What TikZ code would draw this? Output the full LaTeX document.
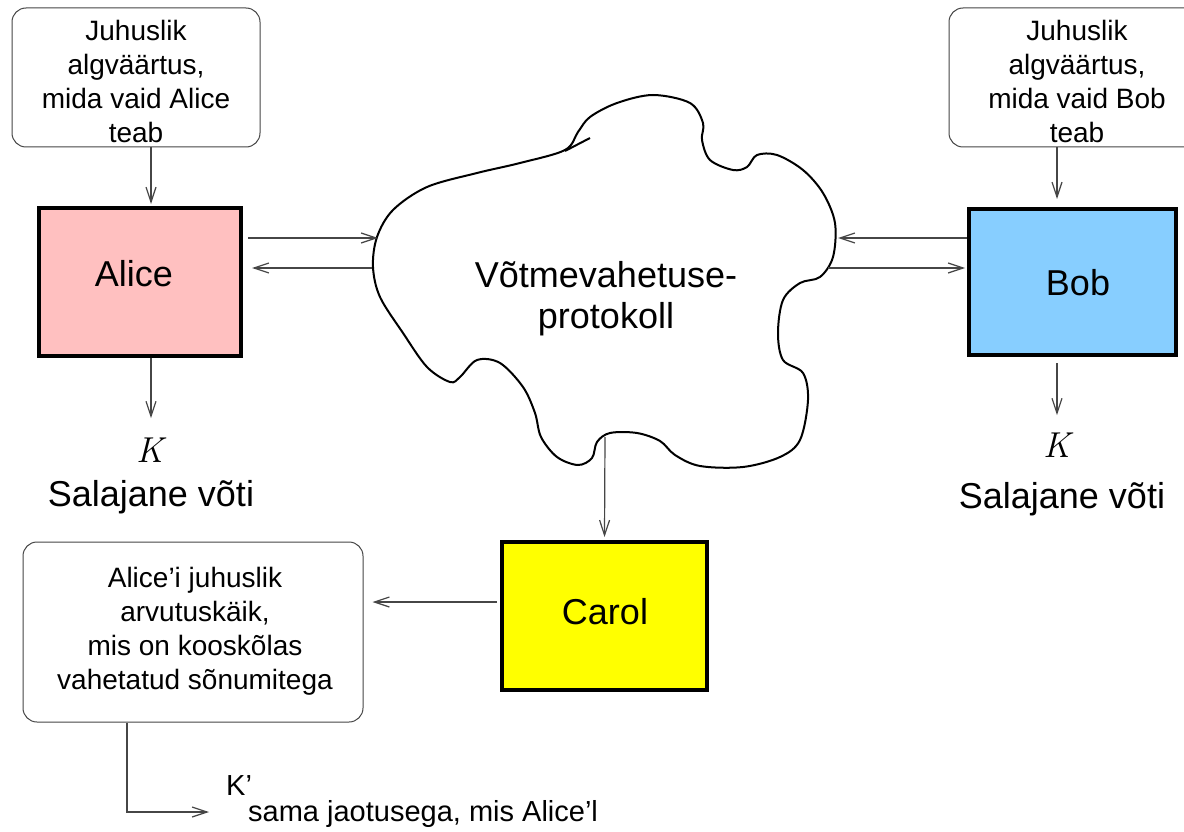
\documentclass[tikz,border=0pt]{standalone}
\usepackage{fontspec}
\setmainfont{Liberation Sans}
\newfontfamily\lmrm{Latin Modern Roman}
\usetikzlibrary{arrows.meta}
\definecolor{alicepink}{RGB}{255,192,192}
\definecolor{bobblue}{RGB}{135,206,255}
\definecolor{carolyellow}{RGB}{255,255,0}
\definecolor{linegray}{RGB}{70,70,70}
\begin{document}
\begin{tikzpicture}[x=1pt,y=-1pt,
  party/.style={draw=black, line width=4pt, inner sep=0pt},
  note/.style={draw=linegray, line width=1pt, rounded corners=14pt, inner sep=0pt},
  notetext/.style={align=center, inner sep=0pt, font=\fontsize{28}{34}\selectfont},
  bigtext/.style={inner sep=0pt, font=\fontsize{36}{41}\selectfont},
  keytext/.style={inner sep=0pt, font=\fontsize{36}{41}\selectfont\lmrm\itshape},
  smalltext/.style={inner sep=0pt, font=\fontsize{29}{34}\selectfont},
  conn/.style={draw=linegray, line width=1.2pt, -{Straight Barb[length=15pt,width=10pt]}},
  cloudline/.style={draw=black, line width=2pt}]
\clip (0,0) rectangle (1184,832);
\fill[white] (0,0) rectangle (1184,832);

% cloud
\draw[cloudline] plot[smooth cycle, tension=0.55] coordinates {
 (565,150) (520,163) (477,173) (427,187) (393,210) (377,237) (373,267) (380,297)
 (403,333) (427,367) (450,382) (460,377) (477,360) (500,363) (523,387) (535,413)
 (541,437) (557,457) (578,465) (592,458) (597,442) (610,433) (637,433) (660,441)
 (675,455) (700,466) (743,467) (780,457) (800,440) (808,400) (803,373) (783,360)
 (778,333) (783,300) (800,283) (820,277) (833,257) (835,223) (823,193) (803,170)
 (777,155) (757,155) (747,167) (733,170) (710,160) (702,140) (703,123) (690,103)
 (653,95) (617,103) (590,117) (578,132)};
\draw[cloudline] (565,151) -- (590,138);
\node[bigtext, align=center] (proto) at (606,299) {Võtmevahetuse-\\protokoll};
\coordinate (cAin) at (378,238);
\coordinate (cAout) at (372,268);
\coordinate (cBin) at (838,238);
\coordinate (cBout) at (828,268);
\coordinate (cC) at (605,437);

% parties
\node[party, fill=alicepink, minimum width=202pt, minimum height=148pt] (alice) at (140,282) {};
\node[bigtext] (alicet) at (134,274) {Alice};
\node[party, fill=bobblue, minimum width=207pt, minimum height=146pt] (bob) at (1072.5,282) {};
\node[bigtext] (bobt) at (1078,283) {Bob};
\node[party, fill=carolyellow, minimum width=205pt, minimum height=148pt] (carol) at (604.5,616) {};
\node[bigtext] (carolt) at (605,612) {Carol};

% notes
\node[note, minimum width=248pt, minimum height=139pt] (seedA) at (136,77.5) {};
\node[notetext] (seedAt) at (136,81) {Juhuslik\\algväärtus,\\mida vaid Alice\\teab};
\node[note, minimum width=256pt, minimum height=139pt] (seedB) at (1077,77.5) {};
\node[notetext] (seedBt) at (1077,81) {Juhuslik\\algväärtus,\\mida vaid Bob\\teab};
\node[note, minimum width=340pt, minimum height=180pt] (run) at (193,632) {};
\node[notetext] (runt) at (195,631) {Alice’i juhuslik\\arvutuskäik,\\mis on kooskõlas\\vahetatud sõnumitega};

% keys
\node[keytext, anchor=base] (kA) at (150,462) {K};
\node[bigtext, anchor=base] (sA) at (151,506) {Salajane võti};
\node[keytext, anchor=base] (kB) at (1057,457) {K};
\node[bigtext, anchor=base] (sB) at (1062,508) {Salajane võti};
\node[smalltext, anchor=base west] (kp) at (226,795) {K’};
\node[smalltext, anchor=base west] (same) at (248,821) {sama jaotusega, mis Alice’l};
\coordinate (kpin) at (209,812);

% connectors
\draw[conn] ([xshift=15pt]seedA.south) -- ([xshift=11pt,yshift=2pt]alice.north);
\draw[conn] ([xshift=-20pt]seedB.south) -- ([xshift=-15.5pt,yshift=8pt]bob.north);
\draw[conn] ([xshift=11pt]alice.south) -- ([xshift=1pt,yshift=19pt]kA.north);
\draw[conn] ([xshift=-15.5pt,yshift=-6pt]bob.south) -- ([yshift=17pt]kB.north);
\draw[conn] ([xshift=5pt,yshift=44pt]alice.east) -- (cAin);
\draw[conn] (cAout) -- ([xshift=9pt,yshift=14pt]alice.east);
\draw[conn] ([yshift=44pt]bob.west) -- (cBin);
\draw[conn] (cBout) -- ([xshift=-2pt,yshift=14pt]bob.west);
\draw[conn] (cC) -- ([yshift=3pt]carol.north);
\draw[conn] ([xshift=-3pt,yshift=14pt]carol.west) -- ([xshift=9pt,yshift=30pt]run.east);
\draw[conn] ([xshift=-66pt]run.south) |- (kpin);
\end{tikzpicture}
\end{document}
